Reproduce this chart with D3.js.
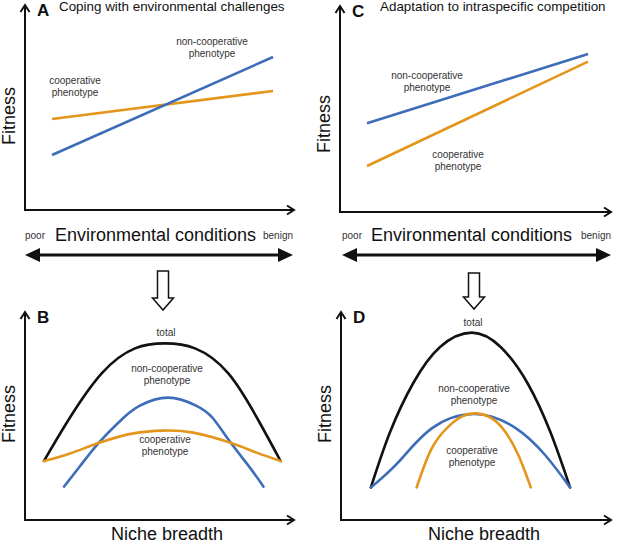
<!DOCTYPE html>
<html>
<head>
<meta charset="utf-8">
<script src="https://cdn.jsdelivr.net/npm/d3@7"></script>
<style>
body { margin: 0; background: #fff; }
text { font-family: "Liberation Sans", Arial, sans-serif; }
.lbl { font-size: 10px; fill: #333; text-anchor: middle; }
.ttl { font-size: 13.4px; fill: #111; }
.big { font-size: 18px; fill: #111; }
.letter { font-size: 17px; font-weight: bold; fill: #111; }
</style>
</head>
<body>
<div id="chart"></div>
<script>
// top panels: fitness at poor (x=1) and benign (x=9.5) ends
var envX = [1.04, 9.54];
var noncoopA = [2.75, 7.65];
var coopA = [4.55, 5.95];
var noncoopC = [4.44, 7.9];
var coopC = [2.3, 7.52];

// bottom panels: fitness over niche breadth
var totalB = [[0.73,2.95],[1.67,5.0],[2.95,7.33],[4.23,8.58],[5.38,8.83],[6.54,8.58],[7.82,7.33],[8.97,5.0],[9.83,2.95]];
var noncoopB = [[1.5,1.67],[2.12,2.7],[2.88,3.92],[3.78,5.1],[4.42,5.72],[5.5,6.12],[6.58,5.72],[7.22,5.1],[7.88,3.92],[8.65,2.62],[9.17,1.67]];
var coopB = [[0.73,2.95],[1.73,3.33],[2.88,3.87],[4.17,4.33],[5.32,4.47],[6.47,4.37],[7.88,3.87],[8.91,3.37],[9.83,2.95]];
var totalD = [[1.15,1.63],[1.88,4.37],[2.78,6.85],[3.81,8.65],[5.03,9.37],[6.14,8.65],[7.17,6.85],[8.06,4.37],[8.81,1.63]];
var noncoopD = [[1.15,1.63],[2.2,2.88],[3.49,4.58],[5.15,5.3],[6.69,4.62],[7.85,3.25],[8.81,1.63]];
var coopD = [[2.91,1.63],[3.49,3.58],[4.13,4.67],[4.64,5.17],[5.19,5.33],[5.8,5.08],[6.31,4.42],[6.82,3.25],[7.3,1.63]];

var blue = "#3d6db8", orange = "#e3951c";

var svg = d3.select("#chart").append("svg")
    .attr("width", 617)
    .attr("height", 544);

function makePanel(p) {
  var x = d3.scaleLinear().domain([0, 10]).range([p.x0, p.x0 + 260]);
  var y = d3.scaleLinear().domain([0, 10]).range([p.y0, p.y0 - 200]);
  var g = svg.append("g");

  // axes with open arrow heads
  g.append("path")
    .attr("d", "M" + p.x0 + "," + p.yTip + "V" + p.y0 + "H" + p.xTip)
    .attr("fill", "none").attr("stroke", "#111").attr("stroke-width", 2);
  g.append("path")
    .attr("d", "M" + (p.x0 - 4.5) + "," + (p.yTip + 7) + "L" + p.x0 + "," + p.yTip + "L" + (p.x0 + 4.5) + "," + (p.yTip + 7))
    .attr("fill", "none").attr("stroke", "#111").attr("stroke-width", 2);
  g.append("path")
    .attr("d", "M" + (p.xTip - 7) + "," + (p.y0 - 4.5) + "L" + p.xTip + "," + p.y0 + "L" + (p.xTip - 7) + "," + (p.y0 + 4.5))
    .attr("fill", "none").attr("stroke", "#111").attr("stroke-width", 2);

  g.append("text").attr("class", "letter")
    .attr("x", p.x0 + 12).attr("y", p.yTip + 11).text(p.letter);

  g.append("text").attr("class", "big")
    .attr("transform", "translate(" + (p.x0 - 10) + "," + p.fitY + ") rotate(-90)")
    .attr("text-anchor", "middle")
    .text("Fitness");

  p.x = x; p.y = y; p.g = g;
  return p;
}

function label(g, cx, by, lines) {
  lines.forEach(function(t, i) {
    g.append("text").attr("class", "lbl")
      .attr("x", cx).attr("y", by + i * 11.7).text(t);
  });
}

function drawCurve(p, data, color) {
  var ln = d3.line()
    .x(function(d) { return p.x(d[0]); })
    .y(function(d) { return p.y(d[1]); })
    .curve(d3.curveNatural);
  p.g.append("path")
    .datum(data)
    .attr("d", ln)
    .attr("fill", "none")
    .attr("stroke", color)
    .attr("stroke-width", 2.6)
    .attr("stroke-linecap", "round");
}

function drawStraight(p, vals, color) {
  var data = envX.map(function(v, i) { return [v, vals[i]]; });
  p.g.append("path")
    .datum(data)
    .attr("d", d3.line().x(function(d) { return p.x(d[0]); }).y(function(d) { return p.y(d[1]); }))
    .attr("fill", "none")
    .attr("stroke", color)
    .attr("stroke-width", 2.6);
}

function envArrow(p, left, right) {
  var g = p.g, yy = 255;
  g.append("line")
    .attr("x1", left + 10).attr("x2", right - 10)
    .attr("y1", yy).attr("y2", yy)
    .attr("stroke", "#111").attr("stroke-width", 3);
  g.append("path")
    .attr("d", "M" + left + "," + yy + "L" + (left + 15) + "," + (yy - 7) + "L" + (left + 15) + "," + (yy + 7) + "Z")
    .attr("fill", "#111");
  g.append("path")
    .attr("d", "M" + right + "," + yy + "L" + (right - 15) + "," + (yy - 7) + "L" + (right - 15) + "," + (yy + 7) + "Z")
    .attr("fill", "#111");
  g.append("text").attr("class", "lbl").style("text-anchor", "start")
    .attr("x", left).attr("y", 239).text("poor");
  g.append("text").attr("class", "lbl").style("text-anchor", "end")
    .attr("x", right).attr("y", 239).text("benign");
  g.append("text").attr("class", "big").attr("text-anchor", "middle")
    .attr("x", (p.x0 + p.xTip) / 2 - 4).attr("y", 241)
    .text("Environmental conditions");
}

function downArrow(cx, top, tip) {
  var hy = tip - 12;
  svg.append("path")
    .attr("d", "M" + (cx - 5.5) + "," + top + "V" + hy + "H" + (cx - 10.5) + "L" + cx + "," + tip +
      "L" + (cx + 10.5) + "," + hy + "H" + (cx + 5.5) + "V" + top + "Z")
    .attr("fill", "#fff").attr("stroke", "#111").attr("stroke-width", 1.5);
}

// Panel A
var A = makePanel({letter: "A", x0: 25, y0: 210, xTip: 294, yTip: 5, fitY: 116});
A.g.append("text").attr("class", "ttl").attr("x", 59).attr("y", 11).text("Coping with environmental challenges");
drawStraight(A, coopA, orange);
drawStraight(A, noncoopA, blue);
label(A.g, 212, 45, ["non-cooperative", "phenotype"]);
label(A.g, 75, 84, ["cooperative", "phenotype"]);
envArrow(A, 25, 293);

// Panel C
var C = makePanel({letter: "C", x0: 340, y0: 212, xTip: 611, yTip: 6, fitY: 124});
C.g.append("text").attr("class", "ttl").attr("x", 380).attr("y", 11).text("Adaptation to intraspecific competition");
drawStraight(C, coopC, orange);
drawStraight(C, noncoopC, blue);
label(C.g, 427, 79, ["non-cooperative", "phenotype"]);
label(C.g, 458, 158, ["cooperative", "phenotype"]);
envArrow(C, 342, 611);

downArrow(163, 271, 310);
downArrow(474, 273, 309);

// Panel B
var B = makePanel({letter: "B", x0: 25, y0: 520, xTip: 294, yTip: 312, fitY: 414});
drawCurve(B, totalB, "#111");
drawCurve(B, noncoopB, blue);
drawCurve(B, coopB, orange);
label(B.g, 166, 336, ["total"]);
label(B.g, 167, 372, ["non-cooperative", "phenotype"]);
label(B.g, 165, 443, ["cooperative", "phenotype"]);
B.g.append("text").attr("class", "big").attr("text-anchor", "middle")
  .attr("x", 167).attr("y", 540).text("Niche breadth");

// Panel D
var D = makePanel({letter: "D", x0: 341, y0: 520, xTip: 611, yTip: 312, fitY: 414});
drawCurve(D, totalD, "#111");
drawCurve(D, noncoopD, blue);
drawCurve(D, coopD, orange);
label(D.g, 473, 326, ["total"]);
label(D.g, 474, 392, ["non-cooperative", "phenotype"]);
label(D.g, 472, 454, ["cooperative", "phenotype"]);
D.g.append("text").attr("class", "big").attr("text-anchor", "middle")
  .attr("x", 484).attr("y", 540).text("Niche breadth");
</script>
</body>
</html>
